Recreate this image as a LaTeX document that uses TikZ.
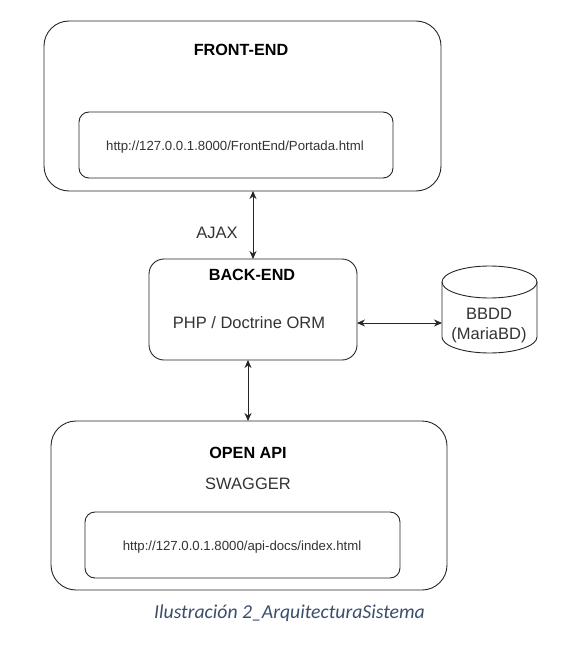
\documentclass[tikz,border=0pt]{standalone}
\usepackage{fontspec}
\setmainfont{Liberation Sans}
\newfontfamily\capfont{Carlito}
\usetikzlibrary{arrows.meta}
\definecolor{capblue}{HTML}{3B4E6B}
\tikzset{
  x=1pt, y=-1pt,
  ln/.style={draw=black!85, line width=0.9pt},
  box/.style={ln, rectangle, inner sep=0pt, outer sep=0pt},
  bigbox/.style={box, rounded corners=25pt},
  smallbox/.style={box, rounded corners=10pt},
  midbox/.style={box, rounded corners=15pt},
  title/.style={font=\bfseries\fontsize{16.2}{19}\selectfont, text=black, inner sep=0pt},
  label/.style={font=\fontsize{16.5}{19}\selectfont, text=black!80, inner sep=0pt},
  url/.style={font=\fontsize{13.2}{16}\selectfont, text=black!80, inner sep=0pt},
  arr/.style={ln, {Stealth[length=8pt,width=7pt]}-{Stealth[length=8pt,width=7pt]}},
}
\begin{document}
\begin{tikzpicture}
\useasboundingbox[fill=white] (0,0) rectangle (570,663);
% boxes
\node[bigbox, minimum width=397pt, minimum height=170pt] (fe) at (242.5,106) {};
\node[smallbox, minimum width=314pt, minimum height=66pt] (feurl) at (236,145) {};
\node[midbox, minimum width=208pt, minimum height=101pt] (be) at (253,309.5) {};
\node[inner sep=0pt, outer sep=0pt, minimum width=95pt, minimum height=87pt] (db) at (489.5,309.5) {};
\node[bigbox, minimum width=396pt, minimum height=169pt] (api) at (249,505.5) {};
\node[smallbox, minimum width=315pt, minimum height=66pt] (apiurl) at (242.5,545) {};
% cylinder
\draw[ln] ([yshift=-16pt]db.north west) -- ([yshift=16pt]db.south west)
  arc[start angle=180, end angle=360, x radius=47.5pt, y radius=16pt]
  -- ([yshift=-16pt]db.north east);
\draw[ln] ([yshift=-16pt]db.north) ellipse[x radius=47.5pt, y radius=16pt];
% texts
\node[title] (fet) at (241,50) {FRONT-END};
\node[url] (feu) at (235,147) {http://127.0.0.1.8000/FrontEnd/Portada.html};
\node[title] (bet) at (252,275) {BACK-END};
\node[label] (bel) at (249,323) {PHP / Doctrine ORM};
\node[label] (ajax) at (217,233) {AJAX};
\node[label] (db1) at (489,314) {BBDD};
\node[label] (db2) at (489,335) {(MariaBD)};
\node[title] (apit) at (248,453) {OPEN API};
\node[label] (sw) at (248,484) {SWAGGER};
\node[url] (apiu) at (242,547) {http://127.0.0.1.8000/api-docs/index.html};
\node[font=\capfont\itshape\fontsize{19.7}{23}\selectfont, text=capblue, inner sep=0pt] (cap) at (289.5,613) {Ilustración 2\_ArquitecturaSistema};
% connectors
\coordinate (c1) at (253,0);
\coordinate (c2) at (248,0);
\coordinate (dbrow) at (0,323);
\draw[arr] (fe.south -| c1) -- (be.north -| c1);
\draw[arr] (be.south -| c2) -- (api.north -| c2);
\draw[arr] (be.east |- dbrow) -- (db.west |- dbrow);
\end{tikzpicture}
\end{document}
